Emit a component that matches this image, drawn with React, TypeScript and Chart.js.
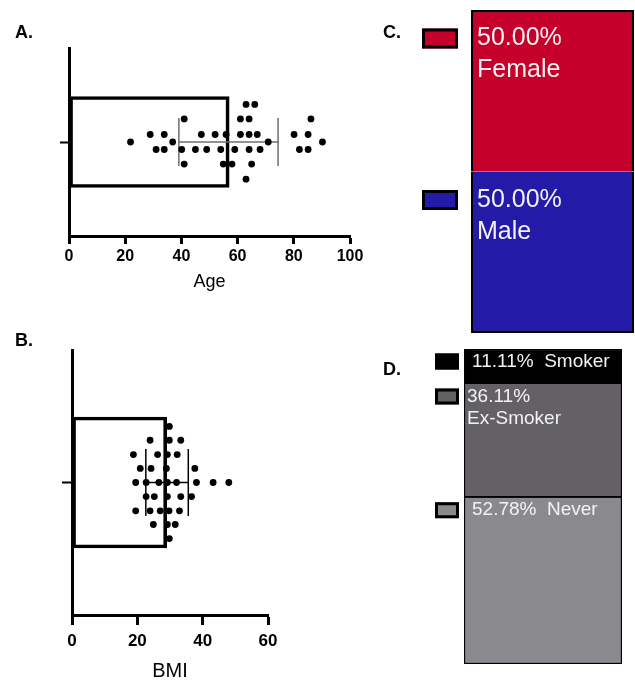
import React, { useEffect, useRef } from 'react';
import { Chart, registerables } from 'chart.js';

Chart.register(...registerables);

const FONT = '"Liberation Sans", Arial, Helvetica, sans-serif';

// ---------- Panel A: Age ----------
const ageTicks = [0, 20, 40, 60, 80, 100];
const ageMean = 57.0;
const ageSdLow = 39.1;
const ageSdHigh = 74.4;
const ageValues = [
  63.0, 66.1,
  41.0, 61.0, 64.1, 86.1,
  28.9, 33.9, 47.1, 52.0, 55.9, 61.0, 64.1, 67.0, 80.1, 85.1,
  21.9, 36.9, 70.9, 90.2,
  31.0, 33.9, 40.1, 45.0, 49.0, 54.0, 59.0, 64.1, 68.0, 82.0, 85.1,
  41.0, 54.9, 58.0, 65.0,
  63.0,
];
const ageSwarm = [
  0.4, 0.4,
  0.245, 0.245, 0.245, 0.245,
  0.08, 0.08, 0.08, 0.08, 0.08, 0.08, 0.08, 0.08, 0.08, 0.08,
  0, 0, 0, 0,
  -0.08, -0.08, -0.08, -0.08, -0.08, -0.08, -0.08, -0.08, -0.08, -0.08, -0.08,
  -0.235, -0.235, -0.235, -0.235,
  -0.395,
];

// ---------- Panel B: BMI ----------
const bmiTicks = [0, 20, 40, 60];
const bmiMean = 29.0;
const bmiSdLow = 22.6;
const bmiSdHigh = 35.6;
const bmiValues = [
  29.8,
  23.9, 29.8, 33.3,
  18.8, 26.2, 29.2, 32.2,
  20.9, 24.2, 28.9, 37.6,
  19.5, 22.7, 26.6, 29.2, 32.0, 38.1, 43.2, 48.0,
  22.7, 25.2, 29.2, 33.3, 36.6,
  19.5, 23.9, 27.0, 29.7, 32.9,
  24.9, 29.2, 31.6,
  29.8,
];
const bmiSwarm = [
  0.423,
  0.319, 0.319, 0.319,
  0.211, 0.211, 0.211, 0.211,
  0.106, 0.106, 0.106, 0.106,
  0, 0, 0, 0, 0, 0, 0, 0,
  -0.106, -0.106, -0.106, -0.106, -0.106,
  -0.214, -0.214, -0.214, -0.214, -0.214,
  -0.317, -0.317, -0.317,
  -0.423,
];

// ---------- Panel C: Sex ----------
const sexCategories = ['Female', 'Male'];
const sexPercent = [50.0, 50.0];
const sexColors = ['#C4002B', '#231BA8'];

// ---------- Panel D: Smoking ----------
const smokeCategories = ['Smoker', 'Ex-Smoker', 'Never'];
const smokePercent = [11.11, 36.11, 52.78];
const smokeColors = ['#000000', '#636166', '#8A898E'];
const smokeLabelBreak = [false, true, false];

type DotOpts = {
  values: number[];
  swarm: number[];
  mean: number;
  lo: number;
  hi: number;
  ticks: number[];
  title: string;
  barThickness: number;
  capHalf: number;
  errColor: string;
  tickSize: number;
  titleSize: number;
  tickLen: number;
  tickPad: number;
  yTickLen: number;
  yWidth: number;
  xHeight: number;
  padding: { left: number; right: number; top: number; bottom: number };
  pointRadius: number;
};

function dotConfig(o: DotOpts): any {
  const errLine = (data: { x: number; y: number }[]) => ({
    type: 'line',
    data,
    borderColor: o.errColor,
    borderWidth: 1.5,
    pointRadius: 0,
    fill: false,
    tension: 0,
    showLine: true,
  });
  return {
    type: 'scatter',
    data: {
      datasets: [
        {
          type: 'scatter',
          data: o.values.map((v, i) => ({ x: v, y: o.swarm[i] })),
          backgroundColor: '#000',
          borderWidth: 0,
          pointRadius: o.pointRadius,
        },
        errLine([{ x: o.lo, y: 0 }, { x: o.hi, y: 0 }]),
        errLine([{ x: o.lo, y: -o.capHalf }, { x: o.lo, y: o.capHalf }]),
        errLine([{ x: o.hi, y: -o.capHalf }, { x: o.hi, y: o.capHalf }]),
        {
          type: 'bar',
          indexAxis: 'y',
          data: [{ x: o.mean, y: 0 }],
          backgroundColor: 'rgba(255,255,255,0)',
          borderColor: '#000',
          borderWidth: 3,
          borderSkipped: false,
          barThickness: o.barThickness,
        },
      ],
    },
    options: {
      responsive: false,
      maintainAspectRatio: false,
      animation: false,
      events: [],
      layout: { padding: o.padding },
      plugins: { legend: { display: false }, tooltip: { enabled: false }, title: { display: false } },
      scales: {
        x: {
          type: 'linear',
          min: o.ticks[0],
          max: o.ticks[o.ticks.length - 1],
          offset: false,
          afterBuildTicks: (s: any) => {
            s.ticks = o.ticks.map((v) => ({ value: v }));
          },
          afterFit: (s: any) => {
            s.height = o.xHeight;
          },
          border: { display: true, color: '#000', width: 3 },
          grid: {
            display: true,
            offset: false,
            drawOnChartArea: false,
            drawTicks: true,
            tickLength: o.tickLen,
            tickWidth: 3,
            tickColor: '#000',
          },
          ticks: {
            color: '#000',
            padding: o.tickPad,
            maxRotation: 0,
            autoSkip: false,
            font: { family: FONT, size: o.tickSize, weight: 'bold' },
          },
          title: {
            display: true,
            text: o.title,
            color: '#000',
            padding: 0,
            font: { family: FONT, size: o.titleSize },
          },
        },
        y: {
          type: 'linear',
          min: -1,
          max: 1,
          offset: false,
          afterBuildTicks: (s: any) => {
            s.ticks = [{ value: 0 }];
          },
          afterFit: (s: any) => {
            s.width = o.yWidth;
          },
          border: { display: true, color: '#000', width: 3 },
          grid: {
            display: true,
            offset: false,
            drawOnChartArea: false,
            drawTicks: true,
            tickLength: o.yTickLen,
            tickWidth: 2,
            tickColor: '#000',
          },
          ticks: { display: false },
        },
      },
    },
  };
}

type StackOpts = {
  categories: string[];
  percents: number[];
  colors: string[];
  lines: string[][];
  borders: any[];
  padding: { left: number; right: number; top: number; bottom: number };
  fontSize: number;
  textX: number[];
  firstOffset: number;
  lineGap: number;
  swatchX: number;
  swatchW: number;
  swatchH: number;
};

function stackConfig(o: StackOpts): any {
  const idx = o.categories.map((_, i) => i).reverse(); // bottom segment first
  const labelPlugin = {
    id: 'stackLabels',
    afterDatasetsDraw(chart: any) {
      const { ctx, chartArea } = chart;
      ctx.save();
      chart.data.datasets.forEach((ds: any, di: number) => {
        const el = chart.getDatasetMeta(di).data[0];
        if (!el) return;
        const top = Math.min(el.y, el.base);
        const k = ds.catIndex;
        const cy = top + o.firstOffset;
        // swatch
        const sx = chartArea.left + o.swatchX;
        const sy = cy - o.swatchH / 2;
        ctx.fillStyle = ds.backgroundColor;
        ctx.fillRect(sx, sy, o.swatchW, o.swatchH);
        ctx.strokeStyle = '#000';
        ctx.lineWidth = 3;
        ctx.strokeRect(sx + 1.5, sy + 1.5, o.swatchW - 3, o.swatchH - 3);
        // text
        ctx.fillStyle = '#F2F2F2';
        ctx.font = `${o.fontSize}px ${FONT}`;
        ctx.textBaseline = 'middle';
        ctx.textAlign = 'left';
        o.lines[k].forEach((line, j) => {
          ctx.fillText(line, chartArea.left + o.textX[k], cy + j * o.lineGap);
        });
      });
      ctx.restore();
    },
  };
  return {
    type: 'bar',
    data: {
      labels: [''],
      datasets: idx.map((i) => ({
        label: o.categories[i],
        catIndex: i,
        data: [o.percents[i]],
        backgroundColor: o.colors[i],
        borderColor: '#000',
        borderWidth: o.borders[i],
        borderSkipped: false,
        barPercentage: 1,
        categoryPercentage: 1,
      })),
    },
    options: {
      responsive: false,
      maintainAspectRatio: false,
      animation: false,
      events: [],
      layout: { padding: o.padding },
      plugins: { legend: { display: false }, tooltip: { enabled: false } },
      scales: {
        x: { stacked: true, display: false },
        y: { stacked: true, display: false, min: 0, max: 100 },
      },
    },
    plugins: [labelPlugin],
  };
}

function ChartCanvas(props: { make: () => any; left: number; top: number; width: number; height: number }) {
  const ref = useRef<HTMLCanvasElement>(null);
  useEffect(() => {
    const chart = new Chart(ref.current as HTMLCanvasElement, props.make());
    return () => chart.destroy();
  }, []);
  return (
    <canvas
      ref={ref}
      width={props.width}
      height={props.height}
      style={{
        position: 'absolute',
        left: props.left,
        top: props.top,
        width: props.width,
        height: props.height,
      }}
    />
  );
}

function PanelLabel(props: { text: string; left: number; top: number }) {
  return (
    <div
      style={{
        position: 'absolute',
        left: props.left,
        top: props.top,
        font: `bold 18px ${FONT}`,
        lineHeight: '18px',
        color: '#000',
        whiteSpace: 'nowrap',
      }}
    >
      {props.text}
    </div>
  );
}

export default function App() {
  const makeA = () =>
    dotConfig({
      values: ageValues,
      swarm: ageSwarm,
      mean: ageMean,
      lo: ageSdLow,
      hi: ageSdHigh,
      ticks: ageTicks,
      title: 'Age',
      barThickness: 91,
      capHalf: 0.255,
      errColor: '#6e6e6e',
      tickSize: 16,
      titleSize: 18,
      tickLen: 8,
      tickPad: 3,
      yTickLen: 9,
      yWidth: 69,
      xHeight: 57,
      padding: { left: 0, right: 20, top: 48, bottom: 7 },
      pointRadius: 3.4,
    });
  const makeB = () =>
    dotConfig({
      values: bmiValues,
      swarm: bmiSwarm,
      mean: bmiMean,
      lo: bmiSdLow,
      hi: bmiSdHigh,
      ticks: bmiTicks,
      title: 'BMI',
      barThickness: 131,
      capHalf: 0.253,
      errColor: '#000',
      tickSize: 17,
      titleSize: 20,
      tickLen: 10,
      tickPad: 6,
      yTickLen: 10,
      yWidth: 72,
      xHeight: 68,
      padding: { left: 0, right: 102, top: 20, bottom: 0 },
      pointRadius: 3.4,
    });
  const makeC = () =>
    stackConfig({
      categories: sexCategories,
      percents: sexPercent,
      colors: sexColors,
      lines: sexCategories.map((c, i) => [`${sexPercent[i].toFixed(2)}%`, c]),
      borders: [
        { top: 2.5, left: 2.5, right: 2.5, bottom: 0 },
        { top: 0, left: 2.5, right: 2.5, bottom: 2.5 },
      ],
      padding: { left: 71, right: 1, top: 10, bottom: 12 },
      fontSize: 25,
      textX: [6, 6],
      firstOffset: 28.5,
      lineGap: 32,
      swatchX: -49,
      swatchW: 36,
      swatchH: 20,
    });
  const makeD = () =>
    stackConfig({
      categories: smokeCategories,
      percents: smokePercent,
      colors: smokeColors,
      lines: smokeCategories.map((c, i) =>
        smokeLabelBreak[i] ? [`${smokePercent[i].toFixed(2)}%`, c] : [`${smokePercent[i].toFixed(2)}%  ${c}`]
      ),
      borders: [
        { top: 1.5, left: 1.5, right: 1.5, bottom: 0 },
        { top: 0, left: 1.5, right: 1.5, bottom: 2 },
        { top: 0, left: 1.5, right: 1.5, bottom: 1.5 },
      ],
      padding: { left: 64, right: 13, top: 9, bottom: 19 },
      fontSize: 19,
      textX: [8, 3, 8],
      firstOffset: 12.5,
      lineGap: 22.5,
      swatchX: -29,
      swatchW: 24,
      swatchH: 16,
    });

  return (
    <div style={{ position: 'absolute', left: 0, top: 0, width: 635, height: 683, background: '#fff', overflow: 'hidden' }}>
      <ChartCanvas make={makeA} left={0} top={0} width={370} height={300} />
      <ChartCanvas make={makeB} left={0} top={330} width={370} height={353} />
      <ChartCanvas make={makeC} left={400} top={0} width={235} height={345} />
      <ChartCanvas make={makeD} left={400} top={340} width={235} height={343} />
      <PanelLabel text="A." left={15} top={22.5} />
      <PanelLabel text="B." left={15} top={331} />
      <PanelLabel text="C." left={383} top={22.5} />
      <PanelLabel text="D." left={383} top={359.5} />
    </div>
  );
}
